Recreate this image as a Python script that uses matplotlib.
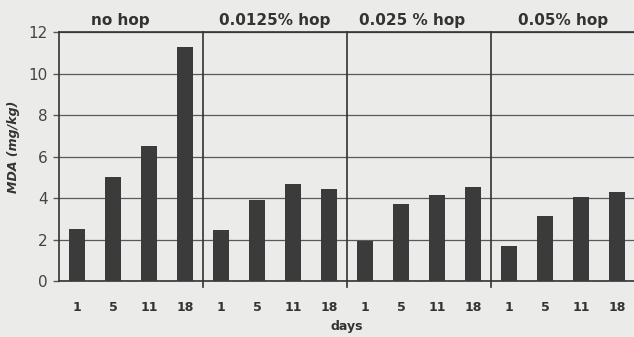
import matplotlib
matplotlib.use('Agg')
import matplotlib.pyplot as plt
import numpy as np

groups = ['no hop', '0.0125% hop', '0.025 % hop', '0.05% hop']
days = ['1', '5', '11', '18']
no_hop = [2.5, 5.0, 6.5, 11.3]
hop_00125 = [2.45, 3.9, 4.7, 4.45]
hop_0025 = [1.95, 3.7, 4.15, 4.55]
hop_005 = [1.7, 3.15, 4.05, 4.3]

values = no_hop + hop_00125 + hop_0025 + hop_005
labels = days * len(groups)

bg = '#ebebe9'
bar_col = '#3b3b3b'
line_col = '#5a5a5a'

fig = plt.figure(figsize=(6.34, 3.37), dpi=100, facecolor=bg)
ax = fig.add_axes([0.093, 0.166, 0.9085, 0.739])
ax.set_facecolor(bg)

x = np.arange(len(values))
ax.bar(x, values, width=0.45, color=bar_col, zorder=3)

ax.set_xlim(-0.5, len(values) - 0.5)
ax.set_ylim(0, 12)
ax.set_yticks(range(0, 13, 2))
ax.yaxis.grid(True, color=line_col, linewidth=0.9, zorder=1)
ax.set_xticks(x)
ax.set_xticklabels(labels, fontsize=9, fontweight='bold', color='#333333')
ax.tick_params(axis='x', length=0, pad=14)
ax.tick_params(axis='y', length=4, width=1, color=line_col, labelsize=11,
               labelcolor='#444444', pad=4)

for s in ['top', 'left', 'bottom']:
    ax.spines[s].set_color('#333333')
    ax.spines[s].set_linewidth(1.2)
ax.spines['right'].set_visible(False)

# group separators and titles
n = len(days)
for i, g in enumerate(groups):
    if i > 0:
        ax.plot([i * n - 0.5, i * n - 0.5], [-0.3, 12], color='#333333',
                linewidth=1.2, clip_on=False, zorder=4)
    shift = -0.3 if i == 0 else (-0.2 if i == 2 else 0)
    ax.text(i * n + 1.5 + shift, 12.2, g, ha='center', va='bottom',
            fontsize=11, fontweight='bold', color='#333333')

ax.set_xlabel('days', fontsize=9, fontweight='bold', color='#333333', labelpad=5)
ax.set_ylabel('MDA (mg/kg)', fontsize=9, fontweight='bold', style='italic',
              color='#333333')
ax.yaxis.set_label_coords(-0.068, 0.54)

fig.savefig('out.png', dpi=100, facecolor=bg)
